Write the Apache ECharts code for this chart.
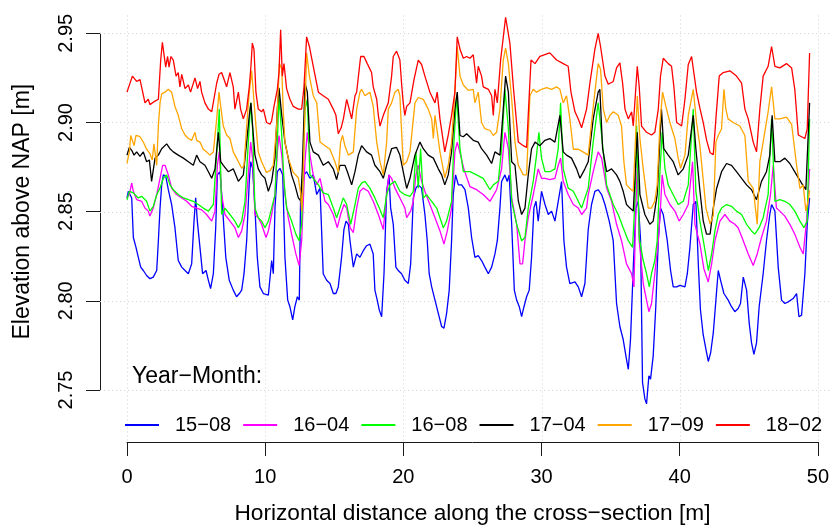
<!DOCTYPE html>
<html>
<head>
<meta charset="utf-8">
<script src="https://cdn.jsdelivr.net/npm/echarts@6/dist/echarts.min.js"></script>
<style>html,body{margin:0;padding:0;background:#fff}#c{width:832px;height:530px}</style>
</head>
<body>
<div id="c"></div>
<script>
const seriesNames = ['15−08','16−04','16−08','17−04','17−09','18−02'];
const seriesColors = ['#0000FF','#FF00FF','#00FF00','#000000','#FFA500','#FF0000'];
const xTicks = [0,10,20,30,40,50];
const yTicks = [2.75,2.80,2.85,2.90,2.95];

const s1508 = [[0,2.8577],[0.1,2.8614],[0.22,2.8605],[0.34,2.8577],[0.46,2.8355],[0.65,2.830],[0.82,2.8244],[0.99,2.8189],[1.18,2.817],[1.42,2.8142],[1.66,2.8124],[1.9,2.8133],[2.15,2.817],[2.27,2.8337],[2.39,2.852],[2.51,2.865],[2.63,2.8706],[2.8,2.870],[2.99,2.8623],[3.23,2.854],[3.47,2.841],[3.71,2.8226],[3.96,2.8189],[4.2,2.817],[4.44,2.8152],[4.68,2.8207],[4.85,2.8447],[4.97,2.8577],[5.09,2.8447],[5.28,2.830],[5.47,2.8152],[5.72,2.817],[5.89,2.8115],[6.05,2.8069],[6.25,2.8152],[6.42,2.841],[6.54,2.8706],[6.73,2.8724],[6.92,2.852],[7.15,2.8244],[7.4,2.8115],[7.69,2.806],[7.93,2.8023],[8.13,2.8041],[8.3,2.806],[8.47,2.8152],[8.66,2.8337],[8.85,2.867],[8.95,2.878],[9.09,2.8743],[9.26,2.852],[9.43,2.8244],[9.62,2.8078],[9.87,2.8041],[10.23,2.8032],[10.47,2.8226],[10.59,2.8152],[10.71,2.852],[10.88,2.8724],[11.07,2.8743],[11.27,2.8706],[11.43,2.8244],[11.63,2.8004],[11.79,2.7967],[11.99,2.7893],[12.15,2.7967],[12.33,2.8023],[12.47,2.8004],[12.57,2.8614],[12.81,2.8706],[13.0,2.8724],[13.24,2.8687],[13.48,2.8706],[13.73,2.8596],[13.97,2.8632],[14.2,2.8152],[14.45,2.8115],[14.69,2.8097],[14.93,2.8041],[15.12,2.8041],[15.29,2.8078],[15.53,2.8244],[15.7,2.84],[15.85,2.8447],[16.02,2.8429],[16.14,2.8337],[16.38,2.8189],[16.62,2.8263],[16.86,2.8244],[17.1,2.8281],[17.34,2.8309],[17.58,2.8318],[17.82,2.8263],[17.94,2.806],[18.11,2.8004],[18.26,2.7948],[18.43,2.7911],[18.6,2.8152],[18.79,2.8614],[18.96,2.8706],[19.08,2.8521],[19.27,2.8429],[19.46,2.8189],[19.63,2.817],[19.87,2.8152],[20.11,2.8115],[20.36,2.8097],[20.53,2.8207],[20.72,2.8577],[20.91,2.8632],[21.08,2.865],[21.32,2.8632],[21.56,2.8484],[21.73,2.8337],[21.87,2.8152],[22.05,2.8078],[22.29,2.8004],[22.53,2.793],[22.77,2.7856],[22.94,2.7847],[23.13,2.793],[23.32,2.806],[23.49,2.8337],[23.61,2.8596],[23.78,2.8706],[23.98,2.865],[24.22,2.865],[24.46,2.8623],[24.7,2.8521],[24.94,2.8355],[25.18,2.8244],[25.42,2.8253],[25.66,2.8226],[25.9,2.8189],[26.15,2.8152],[26.39,2.8189],[26.63,2.8263],[26.8,2.8337],[26.99,2.8521],[27.11,2.8669],[27.35,2.8706],[27.52,2.8669],[27.66,2.8706],[27.84,2.8429],[28.03,2.806],[28.2,2.8004],[28.39,2.7967],[28.56,2.7911],[28.73,2.7967],[28.92,2.8023],[29.11,2.806],[29.28,2.8244],[29.45,2.8521],[29.6,2.8558],[29.76,2.8447],[30.0,2.8614],[30.25,2.854],[30.49,2.8484],[30.73,2.8503],[30.97,2.8447],[31.21,2.8558],[31.45,2.8669],[31.62,2.8337],[31.81,2.8189],[32.05,2.8097],[32.42,2.8106],[32.66,2.8078],[32.9,2.8023],[33.14,2.8097],[33.38,2.84],[33.62,2.854],[33.86,2.8614],[34.1,2.8623],[34.35,2.8596],[34.59,2.854],[34.9,2.8447],[35.19,2.8337],[35.43,2.7985],[35.67,2.7856],[35.91,2.7783],[36.15,2.7672],[36.28,2.7616],[36.44,2.7783],[36.64,2.8189],[36.83,2.8521],[37.0,2.8558],[37.17,2.8337],[37.31,2.7542],[37.48,2.745],[37.6,2.7422],[37.77,2.758],[37.89,2.7561],[38.08,2.769],[38.27,2.7967],[38.45,2.8337],[38.61,2.8521],[38.81,2.8484],[39.1,2.8337],[39.34,2.817],[39.53,2.8078],[39.78,2.8078],[40.02,2.8087],[40.38,2.8078],[40.55,2.8152],[40.74,2.830],[40.98,2.854],[41.17,2.8558],[41.35,2.82],[41.5,2.795],[41.7,2.781],[41.92,2.772],[42.07,2.766],[42.24,2.7709],[42.43,2.782],[42.62,2.8004],[42.79,2.817],[42.96,2.8115],[43.2,2.8041],[43.51,2.8004],[43.75,2.7967],[43.99,2.7939],[44.23,2.7957],[44.4,2.7985],[44.6,2.8133],[44.84,2.806],[45.03,2.7875],[45.2,2.7764],[45.37,2.770],[45.56,2.7764],[45.75,2.7967],[46.04,2.8152],[46.28,2.8337],[46.52,2.8484],[46.65,2.854],[46.89,2.8503],[47.13,2.8189],[47.37,2.8004],[47.61,2.7985],[47.85,2.7994],[48.21,2.8013],[48.46,2.8041],[48.63,2.7911],[48.82,2.792],[49.06,2.8152],[49.23,2.8429],[49.4,2.8577]];

const s1604 = [[0,2.8577],[0.17,2.8596],[0.34,2.866],[0.46,2.8614],[0.7,2.8567],[1.06,2.8558],[1.3,2.852],[1.54,2.8503],[1.66,2.8475],[1.9,2.852],[2.15,2.8596],[2.39,2.8687],[2.58,2.876],[2.75,2.876],[2.99,2.8706],[3.23,2.8632],[3.59,2.8596],[3.96,2.8577],[4.32,2.8558],[4.68,2.853],[5.04,2.852],[5.4,2.851],[5.76,2.8484],[6.13,2.8447],[6.37,2.8503],[6.54,2.876],[6.68,2.8835],[6.85,2.8596],[7.09,2.8484],[7.45,2.8447],[7.81,2.841],[8.06,2.8355],[8.3,2.8392],[8.54,2.8484],[8.78,2.8706],[8.95,2.889],[9.09,2.880],[9.26,2.8484],[9.5,2.8466],[9.74,2.8429],[10.06,2.8355],[10.23,2.8392],[10.47,2.8484],[10.71,2.8596],[10.88,2.8835],[11.0,2.8927],[11.2,2.8817],[11.43,2.8596],[11.67,2.8466],[11.91,2.8374],[12.22,2.8263],[12.46,2.8198],[12.64,2.8337],[12.88,2.878],[13.05,2.8945],[13.24,2.8817],[13.48,2.8706],[13.73,2.865],[13.97,2.8687],[14.33,2.8558],[14.57,2.854],[14.93,2.8484],[15.22,2.841],[15.46,2.8484],[15.7,2.854],[15.9,2.852],[16.14,2.841],[16.38,2.8383],[16.62,2.852],[16.86,2.8614],[17.1,2.8632],[17.46,2.8614],[17.82,2.8558],[18.19,2.8484],[18.55,2.840],[18.79,2.8596],[18.96,2.8706],[19.15,2.8687],[19.39,2.8632],[19.75,2.8577],[20.11,2.852],[20.24,2.8466],[20.53,2.8503],[20.72,2.8558],[20.91,2.8706],[21.08,2.876],[21.32,2.867],[21.56,2.8614],[21.92,2.854],[22.29,2.8466],[22.65,2.8392],[22.94,2.8318],[23.18,2.8392],[23.49,2.852],[23.73,2.8835],[23.9,2.889],[24.14,2.8817],[24.38,2.874],[24.82,2.864],[25.3,2.8623],[25.78,2.8596],[26.27,2.8558],[26.75,2.8623],[27.11,2.874],[27.35,2.8945],[27.6,2.8853],[27.84,2.8577],[28.2,2.8429],[28.44,2.8207],[28.63,2.8207],[28.8,2.8337],[29.04,2.8466],[29.4,2.8596],[29.76,2.874],[30.0,2.8687],[30.25,2.8687],[30.6,2.868],[30.97,2.8687],[31.21,2.876],[31.38,2.880],[31.57,2.867],[31.93,2.8596],[32.3,2.854],[32.66,2.852],[32.9,2.8484],[33.26,2.852],[33.38,2.8596],[33.74,2.8724],[34.1,2.8835],[34.35,2.880],[34.71,2.8632],[35.07,2.8558],[35.43,2.8429],[35.79,2.8337],[36.15,2.8207],[36.52,2.8152],[36.69,2.8078],[36.83,2.852],[36.93,2.878],[37.07,2.8337],[37.36,2.8097],[37.6,2.8004],[37.77,2.7939],[37.96,2.7985],[38.2,2.8152],[38.45,2.8337],[38.61,2.852],[38.73,2.8706],[38.93,2.8596],[39.29,2.854],[39.65,2.8503],[39.96,2.8447],[40.26,2.8484],[40.62,2.854],[40.93,2.878],[41.1,2.8429],[41.46,2.832],[41.75,2.818],[42.07,2.8106],[42.31,2.8207],[42.55,2.8337],[42.91,2.8447],[43.27,2.8484],[43.63,2.8447],[43.99,2.8429],[44.23,2.841],[44.6,2.8337],[44.96,2.8263],[45.32,2.8198],[45.61,2.8263],[45.92,2.8355],[46.28,2.8447],[46.57,2.8596],[46.77,2.876],[47.0,2.852],[47.25,2.8503],[47.61,2.8475],[47.97,2.8429],[48.33,2.8374],[48.7,2.830],[48.94,2.8263],[49.18,2.8447],[49.4,2.874]];

const s1608 = [[0,2.8567],[0.17,2.8614],[0.46,2.8605],[0.82,2.8577],[1.06,2.8586],[1.42,2.8558],[1.66,2.8503],[1.9,2.853],[2.15,2.8595],[2.39,2.8632],[2.63,2.8687],[2.87,2.8706],[3.11,2.865],[3.35,2.8623],[3.71,2.8596],[4.08,2.8577],[4.44,2.8567],[4.8,2.8558],[5.16,2.854],[5.52,2.852],[5.89,2.8503],[6.25,2.854],[6.54,2.889],[6.68,2.9075],[6.85,2.8484],[7.09,2.852],[7.45,2.8484],[7.81,2.8447],[8.06,2.841],[8.3,2.8447],[8.54,2.8558],[8.78,2.889],[8.95,2.911],[9.09,2.8965],[9.26,2.852],[9.5,2.8466],[9.74,2.8447],[9.99,2.841],[10.23,2.8447],[10.47,2.852],[10.71,2.8595],[10.88,2.889],[11.0,2.915],[11.2,2.8927],[11.36,2.867],[11.55,2.852],[11.91,2.8447],[12.22,2.8374],[12.46,2.8337],[12.64,2.8429],[12.88,2.9075],[13.05,2.913],[13.24,2.8706],[13.48,2.8687],[13.85,2.865],[14.2,2.8605],[14.57,2.8596],[14.93,2.852],[15.17,2.8466],[15.41,2.852],[15.65,2.8577],[15.9,2.854],[16.19,2.8429],[16.5,2.854],[16.74,2.8632],[16.98,2.866],[17.22,2.867],[17.58,2.8632],[17.94,2.8577],[18.26,2.852],[18.55,2.8466],[18.79,2.8595],[19.03,2.865],[19.39,2.867],[19.75,2.8614],[20.11,2.8595],[20.48,2.8586],[20.72,2.8614],[20.91,2.8835],[21.08,2.8632],[21.25,2.8853],[21.44,2.8577],[21.68,2.8595],[22.05,2.8558],[22.41,2.852],[22.65,2.8466],[22.89,2.841],[23.13,2.8447],[23.49,2.8558],[23.66,2.889],[23.86,2.915],[24.1,2.8853],[24.34,2.8724],[24.82,2.8724],[25.3,2.8706],[25.78,2.8687],[26.27,2.8623],[26.51,2.865],[26.87,2.867],[27.11,2.8853],[27.35,2.9186],[27.6,2.8965],[27.84,2.8558],[28.2,2.8429],[28.56,2.8337],[28.8,2.8355],[29.04,2.852],[29.4,2.867],[29.64,2.8817],[29.81,2.8945],[30.0,2.880],[30.25,2.8724],[30.6,2.8724],[30.97,2.874],[31.21,2.8853],[31.38,2.911],[31.57,2.874],[31.93,2.8632],[32.3,2.8614],[32.66,2.8558],[32.9,2.852],[33.14,2.8577],[33.38,2.8632],[33.74,2.889],[34.1,2.911],[34.35,2.8927],[34.71,2.865],[35.19,2.854],[35.55,2.8484],[35.91,2.841],[36.28,2.8337],[36.59,2.830],[36.76,2.8558],[36.88,2.8983],[37.07,2.8355],[37.36,2.8226],[37.6,2.8152],[37.8,2.8078],[37.96,2.8152],[38.2,2.8226],[38.37,2.8337],[38.56,2.8706],[38.73,2.8945],[38.93,2.8743],[39.17,2.865],[39.53,2.8595],[39.89,2.854],[40.26,2.8558],[40.62,2.865],[40.98,2.9075],[41.17,2.8614],[41.46,2.8447],[41.75,2.832],[42.07,2.817],[42.31,2.8263],[42.55,2.8392],[42.79,2.8484],[43.03,2.852],[43.39,2.854],[43.75,2.853],[44.11,2.8503],[44.48,2.8484],[44.84,2.8429],[45.2,2.8392],[45.44,2.8374],[45.75,2.841],[46.04,2.8466],[46.4,2.8596],[46.65,2.902],[46.89,2.8558],[47.25,2.8567],[47.61,2.8558],[47.97,2.854],[48.33,2.8503],[48.7,2.8447],[48.99,2.841],[49.23,2.8447],[49.4,2.902]];

const s1704 = [[0,2.8817],[0.17,2.886],[0.34,2.8844],[0.51,2.8817],[0.7,2.8835],[0.94,2.881],[1.18,2.8835],[1.42,2.878],[1.62,2.879],[1.78,2.867],[1.9,2.867],[2.03,2.880],[2.27,2.8817],[2.51,2.8853],[2.87,2.888],[3.11,2.8853],[3.35,2.8835],[3.71,2.8817],[4.08,2.880],[4.44,2.878],[4.8,2.876],[5.04,2.8817],[5.28,2.878],[5.64,2.876],[5.89,2.8724],[6.13,2.8687],[6.37,2.874],[6.61,2.8945],[6.78,2.878],[6.97,2.876],[7.33,2.8724],[7.69,2.874],[8.06,2.867],[8.42,2.8706],[8.66,2.889],[8.85,2.904],[8.97,2.911],[9.09,2.898],[9.26,2.8817],[9.5,2.874],[9.74,2.8706],[9.99,2.8687],[10.23,2.8614],[10.47,2.867],[10.71,2.880],[10.88,2.9075],[11.0,2.9195],[11.2,2.904],[11.43,2.889],[11.67,2.880],[11.91,2.8706],[12.15,2.865],[12.4,2.8577],[12.57,2.856],[12.69,2.874],[12.88,2.922],[13.05,2.917],[13.24,2.889],[13.48,2.8835],[13.85,2.8817],[14.2,2.876],[14.57,2.878],[14.93,2.874],[15.17,2.868],[15.41,2.876],[15.77,2.876],[15.95,2.8724],[16.26,2.865],[16.5,2.8724],[16.74,2.8817],[16.98,2.887],[17.34,2.8835],[17.7,2.8817],[17.94,2.876],[18.31,2.8724],[18.55,2.8687],[18.79,2.876],[19.15,2.8853],[19.51,2.886],[19.75,2.8817],[19.99,2.8724],[20.24,2.863],[20.48,2.8687],[20.84,2.8817],[21.2,2.889],[21.44,2.8853],[21.8,2.8817],[22.17,2.880],[22.53,2.874],[22.77,2.8706],[23.0,2.865],[23.25,2.8706],[23.49,2.8835],[23.73,2.9075],[23.9,2.917],[24.1,2.8927],[24.34,2.892],[24.58,2.8937],[25.06,2.890],[25.42,2.889],[25.66,2.8853],[26.03,2.8817],[26.39,2.877],[26.63,2.8835],[26.99,2.8817],[27.23,2.9075],[27.4,2.926],[27.6,2.917],[27.84,2.878],[28.08,2.876],[28.32,2.856],[28.56,2.8484],[28.8,2.852],[29.04,2.8706],[29.28,2.8853],[29.53,2.889],[29.88,2.887],[30.25,2.890],[30.6,2.891],[30.97,2.889],[31.33,2.904],[31.57,2.8835],[31.81,2.8817],[32.17,2.880],[32.54,2.874],[32.78,2.8687],[33.14,2.874],[33.38,2.878],[33.74,2.902],[34.1,2.917],[34.22,2.9186],[34.42,2.8853],[34.71,2.8724],[35.07,2.874],[35.43,2.8706],[35.67,2.867],[35.91,2.8614],[36.15,2.854],[36.4,2.852],[36.64,2.8503],[36.93,2.8945],[37.12,2.8596],[37.48,2.8484],[37.84,2.8429],[38.08,2.8447],[38.37,2.8596],[38.56,2.889],[38.68,2.9075],[38.85,2.8853],[39.17,2.8817],[39.53,2.878],[39.89,2.8706],[40.26,2.874],[40.62,2.8817],[40.98,2.904],[41.17,2.8853],[41.46,2.862],[41.7,2.845],[41.94,2.8374],[42.2,2.8374],[42.43,2.852],[42.67,2.863],[43.03,2.8724],[43.39,2.877],[43.75,2.876],[44.11,2.8724],[44.48,2.8687],[44.84,2.865],[45.2,2.8623],[45.56,2.8567],[45.92,2.867],[46.28,2.8724],[46.52,2.8817],[46.69,2.904],[46.89,2.878],[47.25,2.878],[47.61,2.880],[47.97,2.877],[48.46,2.8706],[48.82,2.866],[49.13,2.8623],[49.4,2.911]];

const s1709 = [[0,2.877],[0.17,2.8835],[0.27,2.8927],[0.39,2.8937],[0.51,2.887],[0.65,2.8927],[0.94,2.892],[1.18,2.889],[1.42,2.885],[1.66,2.8825],[1.83,2.879],[1.95,2.888],[2.15,2.876],[2.27,2.898],[2.39,2.911],[2.51,2.916],[2.75,2.917],[2.99,2.9186],[3.23,2.917],[3.47,2.909],[3.71,2.904],[3.96,2.8965],[4.2,2.893],[4.44,2.891],[4.68,2.890],[4.92,2.8945],[5.04,2.890],[5.28,2.889],[5.52,2.885],[5.76,2.8835],[6.0,2.8817],[6.25,2.8835],[6.49,2.902],[6.66,2.917],[6.78,2.909],[6.97,2.898],[7.21,2.893],[7.45,2.891],[7.69,2.8835],[7.93,2.880],[8.3,2.8743],[8.47,2.876],[8.66,2.898],[8.85,2.917],[9.02,2.929],[9.14,2.917],[9.33,2.898],[9.5,2.8835],[9.74,2.878],[10.1,2.872],[10.35,2.873],[10.59,2.876],[10.83,2.898],[11.03,2.933],[11.2,2.930],[11.31,2.906],[11.43,2.889],[11.67,2.880],[12.03,2.872],[12.4,2.869],[12.57,2.86],[12.64,2.8503],[12.72,2.862],[12.81,2.889],[13.0,2.939],[13.2,2.926],[13.48,2.915],[13.73,2.911],[13.97,2.889],[14.33,2.887],[14.69,2.885],[15.05,2.878],[15.29,2.872],[15.46,2.889],[15.6,2.8927],[15.77,2.887],[16.02,2.8817],[16.38,2.8835],[16.62,2.9075],[16.86,2.917],[16.98,2.9186],[17.22,2.915],[17.58,2.917],[17.82,2.909],[18.07,2.889],[18.31,2.878],[18.55,2.8706],[18.79,2.889],[18.91,2.9075],[19.15,2.911],[19.39,2.917],[19.63,2.9186],[19.75,2.915],[19.99,2.876],[20.24,2.878],[20.48,2.8835],[20.84,2.911],[21.08,2.914],[21.44,2.913],[21.8,2.9075],[22.05,2.902],[22.17,2.891],[22.29,2.904],[22.65,2.8835],[23.0,2.869],[23.25,2.876],[23.49,2.889],[23.73,2.917],[23.9,2.9426],[24.1,2.926],[24.34,2.921],[24.7,2.918],[24.82,2.9186],[25.06,2.9186],[25.18,2.911],[25.42,2.917],[25.66,2.900],[25.9,2.8965],[26.27,2.8955],[26.51,2.8927],[26.75,2.8945],[26.99,2.9075],[27.23,2.935],[27.4,2.9417],[27.6,2.933],[27.84,2.913],[28.08,2.889],[28.32,2.876],[28.68,2.8706],[28.92,2.8706],[29.16,2.915],[29.4,2.9186],[29.64,2.917],[30.0,2.9186],[30.37,2.9195],[30.73,2.9186],[31.09,2.920],[31.33,2.9186],[31.57,2.911],[31.81,2.915],[32.05,2.902],[32.3,2.885],[32.66,2.885],[33.0,2.8835],[33.38,2.8817],[33.62,2.900],[33.86,2.917],[34.1,2.933],[34.27,2.930],[34.47,2.9075],[34.71,2.900],[34.95,2.904],[35.19,2.906],[35.55,2.904],[35.79,2.898],[35.96,2.878],[36.15,2.865],[36.4,2.863],[36.64,2.8614],[36.93,2.915],[37.12,2.891],[37.36,2.874],[37.72,2.852],[37.96,2.852],[38.2,2.856],[38.37,2.865],[38.56,2.898],[38.76,2.917],[39.0,2.909],[39.29,2.900],[39.65,2.891],[39.89,2.880],[40.06,2.8743],[40.38,2.8817],[40.62,2.904],[40.98,2.9186],[41.22,2.900],[41.46,2.887],[41.7,2.868],[41.9,2.852],[42.2,2.843],[42.43,2.848],[42.62,2.889],[42.79,2.8927],[43.03,2.8965],[43.2,2.9186],[43.34,2.9075],[43.5,2.902],[43.87,2.900],[44.35,2.898],[44.72,2.8927],[44.96,2.867],[45.32,2.863],[45.61,2.843],[45.8,2.878],[46.04,2.889],[46.4,2.906],[46.65,2.920],[46.89,2.902],[47.25,2.902],[47.73,2.903],[48.1,2.899],[48.46,2.876],[48.7,2.863],[48.94,2.865],[49.13,2.8503],[49.3,2.856],[49.4,2.862]];

const s1802 = [[0,2.917],[0.39,2.926],[0.7,2.923],[0.94,2.924],[1.11,2.918],[1.3,2.911],[1.54,2.913],[1.66,2.910],[2.03,2.912],[2.27,2.913],[2.44,2.935],[2.56,2.945],[2.8,2.931],[2.94,2.937],[3.04,2.931],[3.18,2.937],[3.35,2.935],[3.55,2.926],[3.71,2.928],[3.83,2.920],[3.96,2.927],[4.2,2.919],[4.44,2.921],[4.6,2.917],[4.92,2.925],[5.11,2.919],[5.28,2.923],[5.4,2.917],[5.64,2.911],[5.89,2.9075],[6.13,2.906],[6.49,2.922],[6.66,2.927],[6.85,2.928],[6.97,2.927],[7.21,2.920],[7.45,2.928],[7.69,2.920],[7.81,2.9075],[8.06,2.917],[8.22,2.9075],[8.42,2.902],[8.66,2.9075],[8.85,2.920],[8.97,2.9315],[9.07,2.9445],[9.19,2.941],[9.33,2.917],[9.5,2.9075],[9.74,2.906],[9.87,2.9075],[10.1,2.900],[10.35,2.899],[10.47,2.901],[10.64,2.909],[10.88,2.9186],[11.0,2.928],[11.12,2.952],[11.24,2.926],[11.36,2.933],[11.55,2.919],[11.79,2.913],[12.03,2.909],[12.4,2.9075],[12.64,2.9075],[12.81,2.920],[13.0,2.948],[13.2,2.9426],[13.48,2.9315],[13.85,2.917],[14.2,2.915],[14.57,2.913],[14.93,2.9075],[15.12,2.904],[15.29,2.8937],[15.5,2.897],[15.66,2.902],[15.9,2.913],[16.26,2.902],[16.5,2.915],[16.62,2.917],[16.91,2.937],[17.15,2.937],[17.39,2.933],[17.7,2.928],[17.82,2.920],[18.07,2.913],[18.19,2.904],[18.31,2.898],[18.55,2.904],[18.91,2.911],[19.03,2.9186],[19.15,2.926],[19.27,2.937],[19.51,2.940],[19.75,2.935],[19.87,2.922],[19.99,2.911],[20.11,2.904],[20.24,2.909],[20.48,2.911],[20.77,2.924],[21.08,2.935],[21.32,2.9325],[21.56,2.926],[21.92,2.917],[22.29,2.911],[22.45,2.917],[22.65,2.902],[22.82,2.893],[23.0,2.8835],[23.25,2.893],[23.49,2.904],[23.73,2.917],[23.9,2.948],[24.1,2.941],[24.34,2.936],[24.58,2.937],[24.82,2.936],[25.06,2.938],[25.3,2.922],[25.42,2.9315],[25.66,2.926],[25.78,2.920],[26.15,2.9186],[26.39,2.915],[26.51,2.904],[26.63,2.9186],[26.8,2.911],[27.04,2.935],[27.4,2.959],[27.71,2.9445],[27.96,2.920],[28.32,2.889],[28.68,2.887],[28.92,2.886],[29.24,2.935],[29.53,2.933],[29.88,2.937],[30.6,2.939],[31.09,2.935],[31.57,2.933],[31.93,2.9315],[32.13,2.917],[32.42,2.906],[32.66,2.902],[32.9,2.897],[33.26,2.9075],[33.5,2.922],[33.86,2.941],[34.1,2.950],[34.27,2.9426],[34.59,2.926],[34.83,2.9214],[35.19,2.923],[35.43,2.9306],[35.67,2.9334],[35.87,2.922],[36.04,2.9075],[36.28,2.902],[36.52,2.906],[36.64,2.898],[36.93,2.9315],[37.07,2.920],[37.24,2.898],[37.6,2.8945],[37.96,2.893],[38.2,2.8945],[38.45,2.9075],[38.61,2.926],[38.81,2.936],[39.17,2.933],[39.41,2.9315],[39.58,2.920],[39.78,2.900],[40.14,2.898],[40.38,2.913],[40.62,2.9325],[40.86,2.937],[41.22,2.917],[41.46,2.908],[41.7,2.900],[41.95,2.89],[42.2,2.883],[42.43,2.882],[42.62,2.902],[42.86,2.926],[43.15,2.928],[43.63,2.929],[44.11,2.926],[44.48,2.922],[44.72,2.9075],[44.96,2.902],[45.32,2.889],[45.56,2.8835],[45.8,2.9075],[46.04,2.926],[46.4,2.9315],[46.65,2.9426],[46.89,2.9315],[47.25,2.9306],[47.73,2.933],[48.1,2.9306],[48.33,2.9186],[48.58,2.893],[49.06,2.891],[49.23,2.8965],[49.4,2.939]];

const seriesData = [s1508, s1604, s1608, s1704, s1709, s1802];

// extent of the R plot region, in data units (for the dotted grid)
const X_EXT = [-1.95, 51.02];
const Y_EXT = [2.7205, 2.96];
const FONT = 'Liberation Sans, Arial, sans-serif';

const chart = echarts.init(document.getElementById('c'), null, {renderer: 'canvas'});

const gridStyle = {stroke: '#D3D3D3', lineWidth: 1, lineDash: [1, 3]};

const series = [
  {
    type: 'custom', silent: true, z: 1, clip: false,
    data: xTicks.map(v => [v, yTicks[0]]),
    renderItem: (p, api) => {
      const a = api.coord([api.value(0), Y_EXT[1]]);
      const b = api.coord([api.value(0), Y_EXT[0]]);
      return {type: 'line', shape: {x1: Math.round(a[0]) + 0.5, y1: a[1], x2: Math.round(b[0]) + 0.5, y2: b[1]}, style: gridStyle};
    }
  },
  {
    type: 'custom', silent: true, z: 1, clip: false,
    data: yTicks.map(v => [xTicks[0], v]),
    renderItem: (p, api) => {
      const a = api.coord([X_EXT[0], api.value(1)]);
      const b = api.coord([X_EXT[1], api.value(1)]);
      return {type: 'line', shape: {x1: a[0], y1: Math.round(a[1]) + 0.5, x2: b[0], y2: Math.round(b[1]) + 0.5}, style: gridStyle};
    }
  }
];
seriesNames.forEach((name, i) => {
  series.push({
    name: name, type: 'line', data: seriesData[i], showSymbol: false, symbol: 'none',
    clip: false, z: 2 + i, silent: true,
    lineStyle: {color: seriesColors[i], width: 1.3},
    itemStyle: {color: seriesColors[i]}
  });
});

chart.setOption({
  animation: false,
  backgroundColor: '#ffffff',
  textStyle: {fontFamily: FONT},
  title: {
    text: 'Year−Month:', left: 132, top: 365, padding: 0,
    textStyle: {fontSize: 23, fontWeight: 'normal', color: '#000', fontFamily: FONT}
  },
  legend: {
    data: seriesNames, left: 125, top: 415, padding: 0, width: 720,
    icon: 'rect', itemWidth: 34, itemHeight: 2, itemGap: 12,
    textStyle: {fontSize: 20, color: '#000', fontFamily: FONT, padding: [0, 0, 0, 11]}
  },
  grid: {left: 127, right: 14, top: 33.3, bottom: 135.7, containLabel: false},
  xAxis: {
    type: 'value', min: 0, max: 50, interval: 10, offset: 52,
    axisLine: {show: true, onZero: false, lineStyle: {color: '#1a1a1a', width: 1}},
    axisTick: {show: true, length: 14, lineStyle: {color: '#1a1a1a'}},
    axisLabel: {margin: 25, fontSize: 20, color: '#000', fontFamily: FONT},
    splitLine: {show: false},
    name: 'Horizontal distance along the cross−section [m]',
    nameLocation: 'middle', nameGap: 60,
    nameTextStyle: {fontSize: 22.7, color: '#000', fontFamily: FONT}
  },
  yAxis: {
    type: 'value', min: 2.75, max: 2.95, interval: 0.05, offset: 27,
    axisLine: {show: true, onZero: false, lineStyle: {color: '#1a1a1a', width: 1}},
    axisTick: {show: true, length: 14, lineStyle: {color: '#1a1a1a'}},
    axisLabel: {margin: 24, fontSize: 20, color: '#000', rotate: 90, fontFamily: FONT, formatter: v => v.toFixed(2)},
    splitLine: {show: false},
    name: 'Elevation above NAP [m]',
    nameLocation: 'middle', nameGap: 66, nameRotate: 90,
    nameTextStyle: {fontSize: 23, color: '#000', fontFamily: FONT}
  },
  series: series
});
</script>
</body>
</html>
